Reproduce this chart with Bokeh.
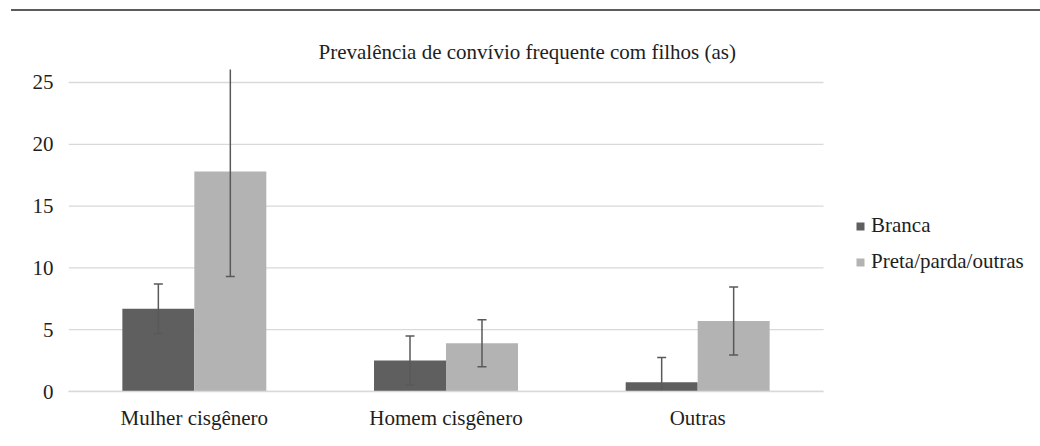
from bokeh.plotting import figure
from bokeh.models import ColumnDataSource, Range1d, Legend, LegendItem, Div
from bokeh.transform import dodge
from bokeh.layouts import column
from bokeh.embed import file_html
from bokeh.resources import INLINE

categories = ["Mulher cisgênero", "Homem cisgênero", "Outras"]
series_names = ["Branca", "Preta/parda/outras"]
branca = [6.7, 2.5, 0.75]
branca_err = [2.0, 2.0, 2.0]
preta = [17.8, 3.9, 5.7]
preta_err = [8.5, 1.9, 2.75]
y_ticks = [0, 5, 10, 15, 20, 25]
title_text = "Prevalência de convívio frequente com filhos (as)"

FONT = "Liberation Serif"
FS = "21px"
DARK = "#5f5f5f"
LIGHT = "#b3b3b3"
ERR = "#595959"
GRID = "#d9d9d9"
TXT = "#1e1e1e"

n = len(categories)
centers = [i + 0.5 for i in range(n)]

src = ColumnDataSource(dict(
    x=centers,
    branca=branca,
    b_lo=[v - e for v, e in zip(branca, branca_err)],
    b_hi=[v + e for v, e in zip(branca, branca_err)],
    preta=preta,
    p_lo=[v - e for v, e in zip(preta, preta_err)],
    p_hi=[v + e for v, e in zip(preta, preta_err)],
))
grid_src = ColumnDataSource(dict(y=y_ticks, x0=[0] * len(y_ticks), x1=[n] * len(y_ticks)))

W, H = 1040, 435
LEFT, PLOT_RIGHT = 68, 823          # plot-area pixel edges (page)
x_end = n * (W - LEFT) / (PLOT_RIGHT - LEFT)   # frame spans to the right edge; categories fill the plot area

p = figure(width=W, height=H, x_range=Range1d(0, x_end),
           y_range=Range1d(0, 26.05), output_backend="svg", toolbar_location=None,
           min_border_left=LEFT, min_border_right=0, min_border_top=58, min_border_bottom=55)
p.outline_line_color = None
p.background_fill_color = "white"
p.border_fill_color = "white"

p.title.text = title_text
p.title.align = "left"
p.title.offset = 250
p.title.standoff = 12
p.title.text_font = FONT
p.title.text_font_size = FS
p.title.text_font_style = "normal"
p.title.text_color = TXT

# horizontal gridlines limited to the plot area
p.segment(x0="x0", y0="y", x1="x1", y1="y", source=grid_src, line_color=GRID, line_width=1.3)
p.xgrid.grid_line_color = None
p.ygrid.grid_line_color = None

bw = 0.286
rb = p.vbar(x=dodge("x", -bw / 2), top="branca", width=bw, source=src,
            fill_color=DARK, line_color=None)
rp = p.vbar(x=dodge("x", bw / 2), top="preta", width=bw, source=src,
            fill_color=LIGHT, line_color=None)

for off, lo, hi in [(-bw / 2, "b_lo", "b_hi"), (bw / 2, "p_lo", "p_hi")]:
    xs = dodge("x", off)
    p.segment(x0=xs, y0=lo, x1=xs, y1=hi, source=src, line_color=ERR, line_width=1.5)
    p.scatter(x=xs, y=lo, source=src, marker="dash", size=9, line_color=ERR, line_width=1.5)
    p.scatter(x=xs, y=hi, source=src, marker="dash", size=9, line_color=ERR, line_width=1.5)

p.yaxis.ticker = y_ticks
p.yaxis.axis_line_color = None
p.yaxis.major_tick_line_color = None
p.yaxis.minor_tick_line_color = None
p.yaxis.major_tick_out = 0
p.yaxis.major_tick_in = 0
p.yaxis.major_label_standoff = 15
p.yaxis.major_label_text_font = FONT
p.yaxis.major_label_text_font_size = FS
p.yaxis.major_label_text_color = TXT

p.xaxis.ticker = centers
p.xaxis.major_label_overrides = {c: lab for c, lab in zip(centers, categories)}
p.xaxis.bounds = (0, n)
p.xaxis.axis_line_color = GRID
p.xaxis.axis_line_width = 1.3
p.xaxis.major_tick_line_color = None
p.xaxis.minor_tick_line_color = None
p.xaxis.major_tick_out = 0
p.xaxis.major_tick_in = 0
p.xaxis.major_label_standoff = 14
p.xaxis.major_label_text_font = FONT
p.xaxis.major_label_text_font_size = FS
p.xaxis.major_label_text_color = TXT

legend = Legend(items=[LegendItem(label=series_names[0], renderers=[rb]),
                       LegendItem(label=series_names[1], renderers=[rp])],
                location=(787, 117), orientation="vertical",
                glyph_width=10, glyph_height=10, label_standoff=6, spacing=11,
                label_height=25, padding=0, margin=0,
                border_line_color=None, background_fill_alpha=0,
                label_text_font=FONT, label_text_font_size=FS, label_text_color=TXT)
p.add_layout(legend)

top_rule = Div(text="", width=1029, height=2, margin=(9, 0, 0, 11),
               styles={"background-color": "#5b5b5b"})
layout = column(top_rule, p, spacing=0)

open("out.html", "w").write(file_html(layout, INLINE))
